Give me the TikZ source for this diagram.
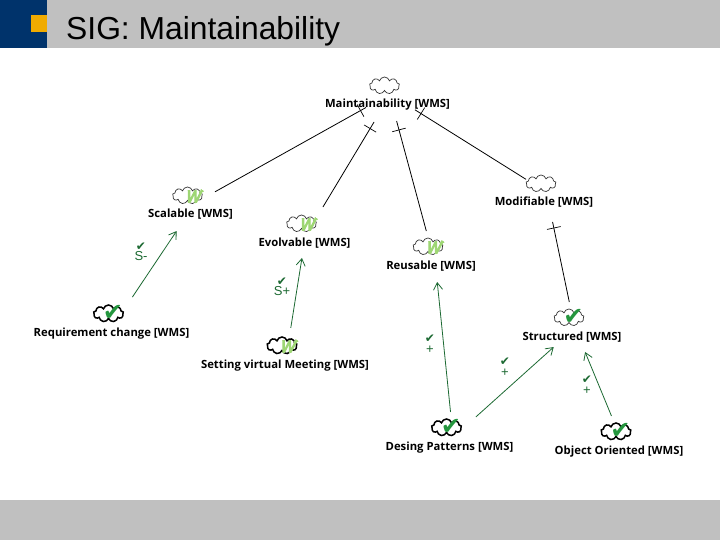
\documentclass[tikz,border=0pt]{standalone}
\usepackage{fontspec}
\setmainfont{Liberation Sans}
\newfontfamily\goalfont{Open Sans}
\newfontfamily\markfont{DejaVu Sans}
\newfontfamily\weakfont[FakeBold=6,FakeSlant=.25,FakeStretch=.9]{Liberation Sans}
\usetikzlibrary{arrows.meta,positioning,shapes.symbols}
\definecolor{headgrey}{RGB}{192,192,192}
\definecolor{headblue}{RGB}{0,51,107}
\definecolor{headorange}{RGB}{240,171,0}
\definecolor{linkgreen}{RGB}{28,105,50}
\definecolor{checkgreen}{RGB}{36,150,62}
\definecolor{weakgreen}{RGB}{158,214,116}
\newcommand{\bigchk}{{\fontsize{24}{24}\markfont\char"2714}}
\newcommand{\smallchk}{{\fontsize{12}{10}\markfont\char"2714}}
\tikzset{
  goal/.style={font=\goalfont\bfseries\fontsize{11.3}{12}\selectfont,inner sep=0pt,text=black,
    text height=8pt,text depth=0pt},
  softgoal/.style={cloud,cloud puffs=9,cloud ignores aspect,draw=black!80,line width=.7pt,
    minimum width=30pt,minimum height=17pt,inner sep=0pt,xshift=-3pt},
  denied/.style={softgoal,draw=black,line width=1.5pt},
  weakmark/.style={label={[text=weakgreen,inner sep=0pt,xshift=5pt,yshift=-1pt,
    font=\weakfont\fontsize{17}{17}\selectfont]center:W},
    label={[text=weakgreen,inner sep=0pt,xshift=14pt,yshift=3pt,
    font=\goalfont\bfseries\fontsize{10}{10}\selectfont]center:+}},
  checkmark/.style={label={[text=checkgreen,inner sep=0pt,xshift=4.5pt,yshift=1pt]center:\bigchk}},
  contrib/.style={text=linkgreen,align=center,inner sep=0pt,font=\fontsize{13}{10.5}\selectfont},
  tick/.style={sloped,draw=black,line width=.7pt,minimum width=0pt,minimum height=14pt,
    inner sep=0pt,outer sep=0pt},
  andlink/.style={color=black,line width=.8pt},
  conlink/.style={color=linkgreen,line width=.8pt,->,>={Straight Barb[length=7pt,width=9pt]}},
}
\begin{document}
\begin{tikzpicture}[x=1pt,y=-1pt,node distance=18.5pt,on grid]
  \useasboundingbox (0,0) rectangle (720,540);
  \fill[headgrey] (0,0) rectangle (720,48);
  \fill[headgrey] (0,500) rectangle (720,540);
  \fill[headblue] (0,0) rectangle (47,48);
  \fill[headorange] (31,15) rectangle (47,32);
  \node[anchor=base west,inner sep=0pt,font=\fontsize{31.8}{32}\selectfont] (title) at (66,40) {SIG: Maintainability};

  % goal labels
  \node[goal] (main) at (387.5,104) {Maintainability [WMS]};
  \node[goal] (scal) at (190.5,214) {Scalable [WMS]};
  \node[goal] (evol) at (304.5,242) {Evolvable [WMS]};
  \node[goal] (reus) at (431,265) {Reusable [WMS]};
  \node[goal] (modi) at (544,202) {Modifiable [WMS]};
  \node[goal] (stru) at (572,336) {Structured [WMS]};
  \node[goal] (requ) at (111.5,332) {Requirement change [WMS]};
  \node[goal] (sett) at (285,364) {Setting virtual Meeting [WMS]};
  \node[goal] (desi) at (449.5,446) {Desing Patterns [WMS]};
  \node[goal] (obje) at (619,450) {Object Oriented [WMS]};

  % clouds
  \node[softgoal] (mainc) [above=of main] {};
  \node[softgoal,weakmark] (scalc) [above=of scal] {};
  \node[softgoal,weakmark] (evolc) [above=of evol] {};
  \node[softgoal,weakmark] (reusc) [above=of reus] {};
  \node[softgoal] (modic) [above=of modi] {};
  \node[softgoal,checkmark] (struc) [above=of stru] {};
  \node[denied,checkmark] (requc) [above=of requ] {};
  \node[denied,weakmark] (settc) [above=of sett] {};
  \node[denied,checkmark] (desic) [above=of desi] {};
  \node[denied,checkmark] (objec) [above=of obje] {};

  \path[andlink]
  ([yshift=8.5pt]scal.center) edge [shorten <=28pt,shorten >=24.6pt] node [tick,pos=.863] {} ([yshift=8.5pt]main.center)
  ([xshift=-2.6pt]evol.center) edge [shorten <=40.8pt,shorten >=21pt] node [tick,pos=.822] {} ([xshift=-2.6pt]main.center)
  ([xshift=4.5pt]reus.center) edge [shorten <=35.2pt,shorten >=17.6pt] node [tick,pos=.839] {} ([xshift=4.5pt]main.center)
  ([yshift=11.4pt]modi.center) edge [shorten <=21.2pt,shorten >=32.4pt] node [tick,pos=.786] {} ([yshift=11.4pt]main.center)
  ([xshift=4.4pt]stru.center) edge [shorten <=34.7pt,shorten >=20.4pt] node [tick,pos=.806] {} ([xshift=4.4pt]modi.center);

  \path[conlink]
  ([xshift=-2.5pt]requ.center) edge [shorten <=42pt,shorten >=20.5pt] ([xshift=-2.5pt]scal.center)
  (sett.center) edge [shorten <=36.5pt,shorten >=16.2pt] (evol.center)
  ([xshift=4.5pt]desi.center) edge [shorten <=34.2pt,shorten >=17.1pt] ([xshift=4.5pt]reus.center)
  ([xshift=-6pt]desi.center) edge [shorten <=43.4pt,shorten >=16.5pt] ([xshift=-6pt]stru.center)
  ([xshift=6.5pt]obje.center) edge [shorten <=36.8pt,shorten >=17.3pt] ([xshift=6.5pt]stru.center);

  % contribution labels
  \node[contrib] (con1) at (141,252) {\smallchk\\S-};
  \node[contrib] (con2) at (282,287) {\smallchk\\S+};
  \node[contrib] (con3) at (430,344) {\smallchk\\+};
  \node[contrib] (con4) at (505,367) {\smallchk\\+};
  \node[contrib] (con5) at (587,385) {\smallchk\\+};
\end{tikzpicture}
\end{document}
